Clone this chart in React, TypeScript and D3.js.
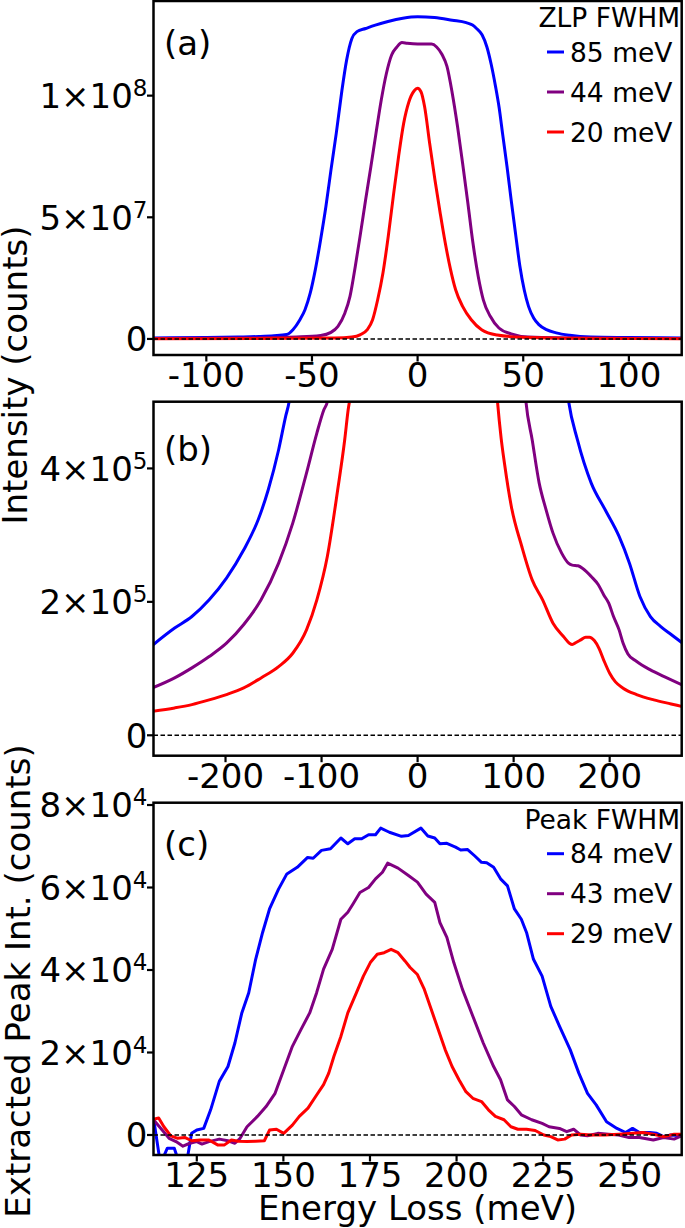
import React, { useEffect } from 'react';
import * as d3 from 'd3';

type Pt = [number, number];

// ---------- labels / colours ----------
const seriesColors = ['#0000ff', '#800080', '#ff0000'];
const zlpLabels = ['85 meV', '44 meV', '20 meV'];
const peakLabels = ['84 meV', '43 meV', '29 meV'];
const zlpLegendTitle = 'ZLP FWHM';
const peakLegendTitle = 'Peak FWHM';

// ---------- ticks ----------
const aXTicks = [-100, -50, 0, 50, 100];
const aYTicks = [0, 5e7, 1e8];
const bXTicks = [-200, -100, 0, 100, 200];
const bYTicks = [0, 2e5, 4e5];
const cXTicks = [125, 150, 175, 200, 225, 250];
const cYTicks = [0, 2e4, 4e4, 6e4, 8e4];

// ---------- panel (a): full zero-loss peaks ----------
const aBlue: Pt[] = [
  [-125, 4e5], [-100, 6e5], [-85, 8e5], [-75, 1.0e6], [-68, 1.3e6], [-62, 1.8e6], [-59, 3.8e6],
  [-55.7, 7.9e6], [-53.3, 1.2e7], [-50.8, 1.89e7], [-48.4, 2.85e7], [-45.9, 4.08e7], [-43.4, 5.44e7],
  [-41, 6.95e7], [-38.5, 8.45e7], [-36, 1.01e8], [-33.6, 1.146e8], [-31.1, 1.235e8], [-28.7, 1.263e8],
  [-24.6, 1.276e8], [-20, 1.29e8], [-14, 1.305e8], [-7, 1.318e8], [0, 1.324e8], [8, 1.321e8],
  [16.4, 1.31e8], [23, 1.3e8], [26, 1.29e8], [27.9, 1.276e8], [30.5, 1.25e8], [32.8, 1.2e8],
  [34.8, 1.13e8], [36.9, 1.037e8], [38.6, 0.95e8], [40.2, 0.845e8], [42.3, 0.71e8], [44.3, 0.57e8],
  [46.4, 0.43e8], [48.4, 0.3e8], [50.5, 0.2e8], [52.5, 0.134e8], [55, 0.085e8], [57.4, 0.059e8],
  [61, 0.038e8], [65.6, 0.025e8], [72, 0.015e8], [82, 0.008e8], [100, 0.006e8], [125, 0.004e8],
];
const aPurple: Pt[] = [
  [-125, 2e5], [-80, 4e5], [-57.4, 8e5], [-45.9, 1.4e6], [-41, 2.7e6], [-37.7, 5.2e6], [-34.4, 1.07e7],
  [-32, 1.75e7], [-29.5, 2.98e7], [-27, 4.35e7], [-24.6, 5.72e7], [-22.1, 7.09e7], [-19.7, 8.45e7],
  [-17.2, 9.82e7], [-14.8, 1.09e8], [-12.3, 1.167e8], [-9.8, 1.2e8], [-7.4, 1.218e8], [-4.9, 1.215e8],
  [0, 1.212e8], [6.6, 1.212e8], [9, 1.2e8], [11.5, 1.17e8], [13.9, 1.12e8], [16.4, 1.01e8],
  [18.9, 8.73e7], [21.3, 7.22e7], [23.8, 5.58e7], [26.2, 3.94e7], [28.7, 2.57e7], [31.1, 1.61e7],
  [34.4, 9.3e6], [38.5, 4.5e6], [44.3, 2.1e6], [52.5, 8e5], [80, 3e5], [125, 2e5],
];
const aRed: Pt[] = [
  [-125, 1e5], [-60, 2.5e5], [-39.3, 4e5], [-31.1, 8e5], [-27, 1.8e6], [-23.8, 3.8e6], [-21.3, 7.9e6],
  [-18.9, 1.61e7], [-16.4, 2.71e7], [-13.9, 4.21e7], [-11.5, 5.86e7], [-9, 7.5e7], [-6.6, 8.86e7],
  [-4.1, 9.75e7], [-1.6, 1.02e8], [0, 1.03e8], [1.6, 1.016e8], [3.3, 9.55e7], [5.7, 8.04e7],
  [8.2, 6.54e7], [10.7, 5.17e7], [13.1, 3.94e7], [15.6, 2.85e7], [18, 2.02e7], [21.3, 1.34e7],
  [25.4, 7.9e6], [30.3, 3.8e6], [37.7, 1.6e6], [49.2, 7e5], [80, 2.5e5], [125, 1e5],
];

// ---------- panel (b): tails of the zero-loss peaks ----------
const bBlueLeft: Pt[] = [
  [-276, 1.35e5], [-253, 1.607e5], [-235, 1.78e5], [-217, 2.03e5], [-199, 2.355e5], [-181, 2.78e5],
  [-166, 3.23e5], [-155.5, 3.68e5], [-144.7, 4.28e5], [-137.4, 4.78e5], [-133.8, 5.0e5], [-131, 5.3e5],
];
const bBlueRight: Pt[] = [
  [154.5, 5.3e5], [157.3, 5.0e5], [166.4, 4.43e5], [180.8, 3.78e5], [195.3, 3.38e5], [209.8, 2.98e5],
  [220.6, 2.58e5], [231.5, 2.08e5], [242.4, 1.78e5], [253.2, 1.63e5], [264, 1.51e5], [276, 1.38e5],
];
const bPurpleLeft: Pt[] = [
  [-276, 0.71e5], [-253, 0.86e5], [-235, 1.01e5], [-217, 1.18e5], [-199, 1.38e5], [-181, 1.66e5],
  [-163, 2.03e5], [-144.7, 2.58e5], [-130, 3.18e5], [-115.7, 3.93e5], [-104.9, 4.53e5], [-97.6, 4.88e5],
  [-94, 5.0e5], [-92, 5.3e5],
];
const bPurpleRight: Pt[] = [
  [111, 5.3e5], [112.8, 5.0e5], [119.3, 4.43e5], [126.6, 3.78e5], [133.8, 3.38e5], [141, 3.03e5],
  [150, 2.73e5], [157, 2.58e5], [161, 2.55e5], [167, 2.54e5], [172, 2.5e5], [180.8, 2.38e5],
  [188, 2.26e5], [194, 2.1e5], [199, 1.98e5], [204, 1.78e5], [209.8, 1.58e5], [214, 1.38e5],
  [219, 1.22e5], [227.8, 1.11e5], [242.4, 0.98e5], [256.8, 0.88e5], [276, 0.75e5],
];
const bRedLeft: Pt[] = [
  [-276, 0.36e5], [-253, 0.41e5], [-235, 0.46e5], [-217, 0.53e5], [-199, 0.61e5], [-181, 0.71e5],
  [-163, 0.86e5], [-144.7, 1.03e5], [-130, 1.23e5], [-115.7, 1.58e5], [-104.9, 2.03e5], [-94, 2.68e5],
  [-83.2, 3.68e5], [-75.9, 4.43e5], [-72.3, 4.88e5], [-70, 5.1e5], [-68, 5.4e5],
];
const bRedRight: Pt[] = [
  [81, 5.4e5], [83.2, 5.0e5], [87, 4.45e5], [90.4, 4.08e5], [97.6, 3.43e5], [108.5, 2.83e5],
  [119.3, 2.33e5], [130.2, 2.03e5], [141, 1.68e5], [151.9, 1.48e5], [158, 1.38e5], [161, 1.36e5],
  [165, 1.39e5], [170, 1.43e5], [175, 1.47e5], [179, 1.47e5], [184, 1.42e5], [189, 1.3e5],
  [194, 1.12e5], [200, 0.93e5], [206, 0.8e5], [213.6, 0.71e5], [228, 0.61e5], [246, 0.53e5],
  [264, 0.47e5], [276, 0.43e5],
];

// ---------- panel (c): extracted peak intensity ----------
const cBlue: Pt[] = [
  [112.5, 4100], [114.5, -7000], [116.5, -3200], [118.5, -3200], [120, -7000], [122, -7000],
  [123.5, 400], [125, 1200], [127, 1600], [129, 6100], [131.5, 13000], [134, 16600], [136, 22300],
  [138, 29600], [140, 34500], [142, 42600], [144, 49100], [146, 54800], [148.6, 59600], [151, 63300],
  [154, 64900], [157, 67300], [158.6, 67100], [161, 69000], [163.6, 69400], [166.6, 72000],
  [168.6, 70600], [170.6, 71800], [172.6, 71800], [174.6, 72800], [176.6, 72800], [178.1, 74400],
  [180.6, 73400], [184.1, 72400], [186.1, 72600], [189.7, 74400], [191.7, 72500], [193.7, 72000],
  [195.2, 70600], [197.2, 70700], [199.7, 69800], [201.2, 69100], [203.2, 69200], [205.2, 67700],
  [207.2, 66100], [208.7, 66000], [210.7, 64900], [212.7, 62100], [214.7, 60400], [216.7, 54800],
  [218.7, 52300], [220.2, 49100], [222.2, 42600], [224.7, 38500], [227.2, 31200], [229.7, 26400],
  [232.8, 20700], [235.3, 15000], [237.8, 10100], [240.3, 7300], [243.3, 3200], [246.3, 1600],
  [248.8, 600], [250.8, 1600], [252.8, 600], [255.8, 600], [257.8, 400], [259.8, -400], [261.8, 0],
  [265, -200],
];
const cPurple: Pt[] = [
  [112.5, 3700], [115, 1200], [117, -800], [119, -1600], [121, -2700], [123, -2000], [125, -1600],
  [126.5, -2200], [128.5, -1600], [131.5, -1000], [134, -1400], [136, -2000], [137.5, -800],
  [139.5, 2000], [142.5, 4500], [145, 6900], [147.6, 10100], [150.1, 15800], [152.6, 21500],
  [155.1, 25600], [157.6, 29600], [159.6, 34500], [161.6, 40200], [164.1, 45000], [166.6, 52300],
  [168.6, 54000], [170.1, 56000], [172.1, 58800], [174.6, 60000], [176.6, 62100], [178.6, 63700],
  [180.1, 65900], [183.1, 64700], [186.1, 62900], [188.7, 61300], [191.2, 58400], [193.7, 56400],
  [195.2, 51500], [197.2, 47900], [199.2, 41800], [201.7, 35300], [204.7, 28800], [207.7, 22300],
  [210.7, 16600], [212.7, 13400], [214.7, 8500], [216.7, 6900], [218.7, 4900], [221.7, 3700],
  [224.7, 2800], [226.7, 2000], [229.7, 1600], [231.8, 800], [233.8, 1400], [235.8, 0],
  [237.8, -200], [240.8, 400], [243.8, 200], [246.8, 0], [249.8, -600], [252.8, -600],
  [256.8, -1200], [259.8, -600], [262.8, -1000], [265, -200],
];
const cRed: Pt[] = [
  [112.5, 3800], [114, 4100], [115.5, 2000], [117.5, -200], [119.5, -800], [121.5, -600],
  [123.5, -1400], [126, -1200], [128.5, -1200], [131, -2400], [133, -2400], [135, -1200],
  [137, -1500], [139.5, -1600], [142, -1500], [144.5, -1400], [146, 1200], [148, 1400], [150.1, 400],
  [152.6, 2400], [154.6, 4500], [157.1, 6500], [159.6, 9700], [161.6, 12200], [163.1, 15000],
  [164.6, 19100], [166.6, 23900], [168.6, 29600], [171.1, 34500], [173.1, 38500], [175.1, 41800],
  [177.1, 43800], [179.1, 44200], [181.1, 45000], [183.1, 44200], [185.1, 42200], [186.6, 40600],
  [188.7, 38900], [190.7, 35300], [192.7, 30400], [194.7, 25600], [196.7, 20700], [198.7, 16600],
  [200.7, 13400], [202.7, 10500], [204.7, 8900], [207.2, 8100], [209.2, 6100], [211.2, 4500],
  [213.7, 3700], [215.7, 2000], [217.7, 1400], [220.2, 1400], [222.7, 1100], [225.2, 0],
  [227.2, -400], [229.2, -1200], [231.2, -1000], [233.2, 0], [235.8, 200], [238.8, 0], [242.8, 0],
  [246.8, 200], [250.8, 400], [253.8, 600], [256.8, 200], [259.8, -400], [262.8, 200], [265, 200],
];

// ---------- layout ----------
const W = 685;
const H = 1228;
const L = 153.5;
const R = 681.7;
const FONT = '"DejaVu Sans", "Liberation Sans", sans-serif';
const BIG = 34;
const LEG = 26.5;

type LineSpec = { color: string; data: Pt[] };

function sciLabel(v: number): { m: string; e: string } {
  if (v === 0) return { m: '0', e: '' };
  const e = Math.floor(Math.log10(Math.abs(v)) + 1e-9);
  const m = Math.round(v / Math.pow(10, e));
  return { m: `${m}×10`, e: `${e}` };
}

function Panel(props: {
  id: string;
  top: number;
  bottom: number;
  xDomain: [number, number];
  yDomain: [number, number];
  xTicks: number[];
  yTicks: number[];
  lines: LineSpec[];
  curve: d3.CurveFactory;
  tag: string;
  tagBaseline: number;
  legendTitle?: string;
  legendLabels?: string[];
}) {
  const { id, top, bottom, xDomain, yDomain, xTicks, yTicks, lines, curve, tag, tagBaseline } = props;
  const x = d3.scaleLinear().domain(xDomain).range([L, R]);
  const y = d3.scaleLinear().domain(yDomain).range([bottom, top]);
  const gen = d3
    .line<Pt>()
    .x((d) => x(d[0]))
    .y((d) => y(d[1]))
    .curve(curve);
  return (
    <g>
      <defs>
        <clipPath id={id}>
          <rect x={L} y={top} width={R - L} height={bottom - top} />
        </clipPath>
      </defs>
      <g clipPath={`url(#${id})`}>
        {lines.map((ln, i) => (
          <path
            key={i}
            d={gen(ln.data) || ''}
            fill="none"
            stroke={ln.color}
            strokeWidth={3}
            strokeLinejoin="round"
          />
        ))}
        <line
          x1={L}
          x2={R}
          y1={y(0)}
          y2={y(0)}
          stroke="#000"
          strokeWidth={1.5}
          strokeDasharray="4.5,2.5"
        />
      </g>
      <rect x={L} y={top} width={R - L} height={bottom - top} fill="none" stroke="#000" strokeWidth={2.5} />
      {xTicks.map((t) => (
        <g key={'x' + t}>
          <line x1={x(t)} x2={x(t)} y1={bottom} y2={bottom + 6.5} stroke="#000" strokeWidth={2.2} />
          <text x={x(t)} y={bottom + 32} textAnchor="middle" fontSize={BIG} fontFamily={FONT} fill="#000">
            {String(t)}
          </text>
        </g>
      ))}
      {yTicks.map((t) => {
        const lab = sciLabel(t);
        return (
          <g key={'y' + t}>
            <line x1={L - 6.5} x2={L} y1={y(t)} y2={y(t)} stroke="#000" strokeWidth={2.2} />
            <text x={L - 6} y={y(t) + 12.4} textAnchor="end" fontSize={BIG} fontFamily={FONT} fill="#000">
              {lab.m}
              {lab.e ? (
                <tspan dy={-12} fontSize={23}>
                  {lab.e}
                </tspan>
              ) : null}
            </text>
          </g>
        );
      })}
      <text x={164} y={tagBaseline} fontSize={BIG} fontFamily={FONT} fill="#000">
        {tag}
      </text>
      {props.legendTitle ? (
        <g fontFamily={FONT} fill="#000">
          <text x={680} y={top + 26} textAnchor="end" fontSize={LEG}>
            {props.legendTitle}
          </text>
          {(props.legendLabels || []).map((lab, i) => {
            const ry = top + 51 + i * 40;
            return (
              <g key={lab}>
                <line x1={547} x2={564} y1={ry} y2={ry} stroke={seriesColors[i]} strokeWidth={3} />
                <text x={570} y={ry + 9.5} fontSize={LEG}>
                  {lab}
                </text>
              </g>
            );
          })}
        </g>
      ) : null}
    </g>
  );
}

export default function App() {
  useEffect(() => {
    document.body.style.margin = '0';
  }, []);
  return (
    <svg
      width={W}
      height={H}
      viewBox={`0 0 ${W} ${H}`}
      style={{ position: 'absolute', left: 0, top: 0, background: '#fff' }}
      xmlns="http://www.w3.org/2000/svg"
    >
      <rect x={0} y={0} width={W} height={H} fill="#fff" />
      <Panel
        id="clipA"
        top={1}
        bottom={355}
        xDomain={[-125, 125]}
        yDomain={[-6.6e6, 1.389e8]}
        xTicks={aXTicks}
        yTicks={aYTicks}
        lines={[
          { color: seriesColors[0], data: aBlue },
          { color: seriesColors[1], data: aPurple },
          { color: seriesColors[2], data: aRed },
        ]}
        curve={d3.curveMonotoneX}
        tag="(a)"
        tagBaseline={55}
        legendTitle={zlpLegendTitle}
        legendLabels={zlpLabels}
      />
      <Panel
        id="clipB"
        top={401.7}
        bottom={755.7}
        xDomain={[-275, 275]}
        yDomain={[-30600, 500000]}
        xTicks={bXTicks}
        yTicks={bYTicks}
        lines={[
          { color: seriesColors[0], data: bBlueLeft },
          { color: seriesColors[0], data: bBlueRight },
          { color: seriesColors[1], data: bPurpleLeft },
          { color: seriesColors[1], data: bPurpleRight },
          { color: seriesColors[2], data: bRedLeft },
          { color: seriesColors[2], data: bRedRight },
        ]}
        curve={d3.curveMonotoneX}
        tag="(b)"
        tagBaseline={461}
      />
      <Panel
        id="clipC"
        top={802.7}
        bottom={1155}
        xDomain={[112.5, 265]}
        yDomain={[-4850, 80560]}
        xTicks={cXTicks}
        yTicks={cYTicks}
        lines={[
          { color: seriesColors[0], data: cBlue },
          { color: seriesColors[1], data: cPurple },
          { color: seriesColors[2], data: cRed },
        ]}
        curve={d3.curveLinear}
        tag="(c)"
        tagBaseline={856}
        legendTitle={peakLegendTitle}
        legendLabels={peakLabels}
      />
      <text
        transform="translate(27,375) rotate(-90)"
        textAnchor="middle"
        fontSize={BIG}
        fontFamily={FONT}
        fill="#000"
      >
        Intensity (counts)
      </text>
      <text
        transform="translate(29.5,981) rotate(-90)"
        textAnchor="middle"
        fontSize={BIG}
        fontFamily={FONT}
        fill="#000"
      >
        Extracted Peak Int. (counts)
      </text>
      <text x={(L + R) / 2} y={1220} textAnchor="middle" fontSize={BIG} fontFamily={FONT} fill="#000">
        Energy Loss (meV)
      </text>
    </svg>
  );
}
